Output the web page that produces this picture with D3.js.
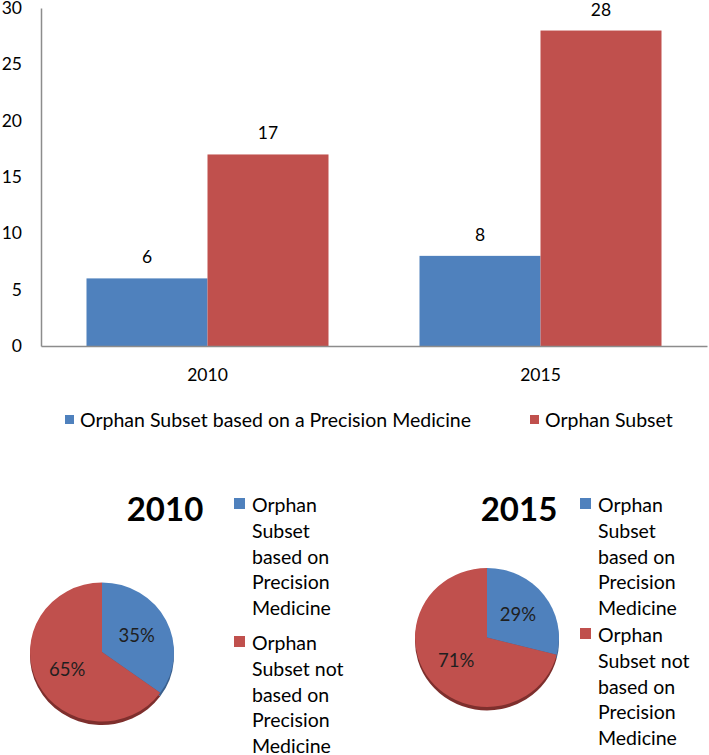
<!DOCTYPE html>
<html>
<head>
<meta charset="utf-8">
<script src="https://cdn.jsdelivr.net/npm/d3@7"></script>
<style>
  html, body { margin: 0; padding: 0; background: #fff; }
  svg { display: block; font-family: Lato, "Liberation Sans", sans-serif; }
</style>
</head>
<body>
<svg id="chart" width="709" height="755"></svg>
<script>
// ---- data ----
const categories = ["2010", "2015"];
const seriesNames = ["Orphan Subset based on a Precision Medicine", "Orphan Subset"];
const precisionValues = [6, 8];
const orphanValues = [17, 28];
const yTicks = [0, 5, 10, 15, 20, 25, 30];

const pieYears = ["2010", "2015"];
const pie2010 = [35, 65];
const pie2015 = [29, 71];
const pieLegend = [["Orphan", "Subset", "based on", "Precision", "Medicine"],
                   ["Orphan", "Subset not", "based on", "Precision", "Medicine"]];

const BLUE = "#4F81BD", RED = "#C0504D";
const colors = [BLUE, RED];
const darkColors = ["#3a5f8c", "#7e2f2d"];

const svg = d3.select("#chart");

// ---- bar chart ----
const plot = { left: 41, right: 707, top: 8, bottom: 346 };
const x0 = d3.scaleBand().domain(categories).range([plot.left, plot.right]).paddingInner(0).paddingOuter(0);
const x1 = d3.scaleBand().domain([0, 1]).range([0, x0.bandwidth()]).paddingOuter(0.376).paddingInner(0);
const y = d3.scaleLinear().domain([0, 30]).range([plot.bottom, plot.top]);

const rows = categories.map((c, i) => ({ cat: c, vals: [precisionValues[i], orphanValues[i]] }));

const groups = svg.append("g").selectAll("g").data(rows).join("g")
  .attr("transform", d => `translate(${x0(d.cat)},0)`);
groups.selectAll("rect").data(d => d.vals.map((v, k) => ({ v, k }))).join("rect")
  .attr("x", d => x1(d.k))
  .attr("width", x1.bandwidth())
  .attr("y", d => y(d.v))
  .attr("height", d => y(0) - y(d.v))
  .attr("fill", d => colors[d.k]);
groups.selectAll("text").data(d => d.vals.map((v, k) => ({ v, k }))).join("text")
  .attr("x", d => x1(d.k) + x1.bandwidth() / 2)
  .attr("y", d => y(d.v) - 15)
  .attr("text-anchor", "middle")
  .attr("font-size", 17.5)
  .attr("fill", "#000")
  .text(d => d.v);

// y axis
const yAxis = svg.append("g").attr("transform", `translate(${plot.left},0)`)
  .call(d3.axisLeft(y).tickValues(yTicks).tickSize(0).tickPadding(19));
yAxis.select(".domain").attr("stroke", "#8c8c8c").attr("stroke-width", 1.5);
yAxis.selectAll("text").attr("font-size", 17.5).attr("fill", "#000").attr("font-family", "Lato, sans-serif");

// x axis
const xAxis = svg.append("g").attr("transform", `translate(0,${plot.bottom})`)
  .call(d3.axisBottom(x0).tickSize(0).tickPadding(23));
xAxis.select(".domain").attr("stroke", "#8c8c8c").attr("stroke-width", 1.5);
xAxis.selectAll("text").attr("font-size", 17.5).attr("fill", "#000").attr("font-family", "Lato, sans-serif");

// bar legend
const legendItems = [{ name: seriesNames[0], x: 65 }, { name: seriesNames[1], x: 530 }];
const lg = svg.append("g").selectAll("g").data(legendItems).join("g")
  .attr("transform", d => `translate(${d.x},420)`);
lg.append("rect").attr("x", 0).attr("y", -5).attr("width", 9).attr("height", 9)
  .attr("fill", (d, i) => colors[i]);
lg.append("text").attr("x", 15).attr("y", 6.5).attr("font-size", 19.5).attr("fill", "#000").text(d => d.name);

// ---- pies ----
const pies = [
  { year: pieYears[0], data: pie2010, cx: 102, cy: 652, titleX: 165, legendX: 234, item2Y: 650 },
  { year: pieYears[1], data: pie2015, cx: 487, cy: 637.5, titleX: 519, legendX: 580, item2Y: 642 }
];
const R = 72, ySquash = 0.965;
const pieGen = d3.pie().sort(null).value(d => d);
const arc = d3.arc().innerRadius(0).outerRadius(R);
const labelArc = d3.arc().innerRadius(39).outerRadius(39);

pies.forEach(p => {
  const g = svg.append("g");
  const arcs = pieGen(p.data);
  // depth / shadow
  g.append("g").attr("transform", `translate(${p.cx},${p.cy + 3.5}) scale(1,${ySquash})`)
    .selectAll("path").data(arcs).join("path")
    .attr("d", arc).attr("fill", (d, i) => darkColors[i]);
  // face
  g.append("g").attr("transform", `translate(${p.cx},${p.cy}) scale(1,${ySquash})`)
    .selectAll("path").data(arcs).join("path")
    .attr("d", arc).attr("fill", (d, i) => colors[i]);
  // labels
  g.append("g").attr("transform", `translate(${p.cx},${p.cy})`)
    .selectAll("text").data(arcs).join("text")
    .attr("transform", d => { const c = labelArc.centroid(d); return `translate(${c[0]},${c[1] * ySquash})`; })
    .attr("text-anchor", "middle").attr("dy", "0.36em")
    .attr("font-size", 18.5).attr("fill", "#1f1f1f")
    .text(d => d.data + "%");
  // title
  g.append("text").attr("x", p.titleX).attr("y", 521).attr("text-anchor", "middle")
    .attr("font-size", 33).attr("font-weight", "bold").attr("fill", "#000").text(p.year);
  // legend
  const itemY = [512, p.item2Y];
  pieLegend.forEach((lines, k) => {
    g.append("rect").attr("x", p.legendX).attr("y", itemY[k] - 14).attr("width", 11).attr("height", 11)
      .attr("fill", colors[k]);
    g.append("text").attr("x", p.legendX + 18).attr("y", itemY[k]).attr("font-size", 19.5).attr("fill", "#000")
      .selectAll("tspan").data(lines).join("tspan")
      .attr("x", p.legendX + 18).attr("dy", (d, i) => i === 0 ? 0 : 25.8).text(d => d);
  });
});
</script>
</body>
</html>
